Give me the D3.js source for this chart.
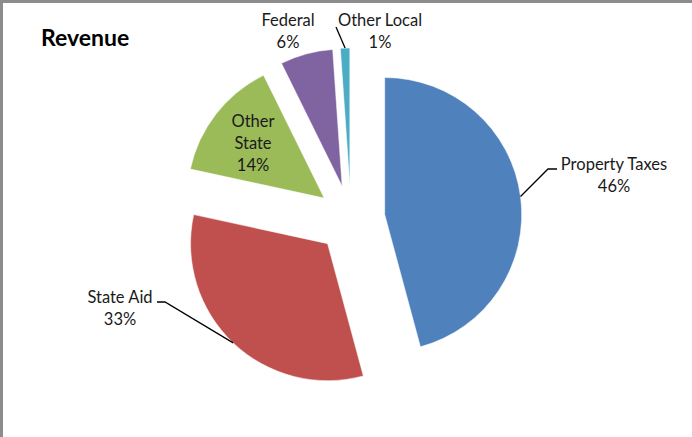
<!DOCTYPE html>
<html>
<head>
<meta charset="utf-8">
<script src="https://cdn.jsdelivr.net/npm/d3@7"></script>
<style>
  html, body { margin: 0; padding: 0; background: #fff; }
  svg { display: block; }
</style>
</head>
<body>
<div id="chart"></div>
<script>
const svgWidth = 692;
const svgHeight = 437;

// data
const categories = ['Property Taxes', 'State Aid', 'Other State', 'Federal', 'Other Local'];
const shares = [45.8, 32.6, 14.3, 6.2, 1.1];
const colors = ['#4F81BD', '#C0504D', '#9BBB59', '#8064A2', '#4BACC6'];

// label placement (layout only)
const labelLayout = {
  'Property Taxes': { lines: ['Property Taxes'], x: 614, y: 170, leader: [[548, 169], [557, 169]] },
  'State Aid': { lines: ['State Aid'], x: 120, y: 303, leader: [[165, 302], [157, 302]] },
  'Other State': { lines: ['Other', 'State'], x: 253, y: 127, leader: null },
  'Federal': { lines: ['Federal'], x: 288, y: 26, leader: null },
  'Other Local': { lines: ['Other Local'], x: 380, y: 26, leader: [[336, 27]] }
};

const cx = 351;
const cy = 219;
const radius = 137;
const explode = 34;
const lineGap = 22;

const svg = d3.select('#chart').append('svg')
  .attr('width', svgWidth)
  .attr('height', svgHeight);

svg.append('rect')
  .attr('x', 1.5)
  .attr('y', 1.5)
  .attr('width', svgWidth + 10)
  .attr('height', svgHeight + 10)
  .attr('fill', '#fff')
  .attr('stroke', '#8c8c8c')
  .attr('stroke-width', 3);

svg.append('text')
  .attr('x', 41)
  .attr('y', 46)
  .attr('font-family', 'Lato, "Open Sans", sans-serif')
  .attr('font-weight', 'bold')
  .attr('font-size', 23)
  .attr('fill', '#000')
  .text('Revenue');

const pie = d3.pie()
  .sort(null)
  .value(d => d.value)
  .startAngle(0)
  .endAngle(2 * Math.PI);

const arc = d3.arc()
  .innerRadius(0)
  .outerRadius(radius);

const slices = pie(categories.map((c, i) => ({ name: c, value: shares[i], color: colors[i] })));

const midAngle = d => (d.startAngle + d.endAngle) / 2;
const offsetOf = d => {
  const a = midAngle(d);
  return [cx + explode * Math.sin(a), cy - explode * Math.cos(a)];
};

const g = svg.append('g');

g.selectAll('path')
  .data(slices)
  .enter()
  .append('path')
  .attr('transform', d => `translate(${offsetOf(d)})`)
  .attr('d', arc)
  .attr('fill', d => d.data.color)
  .attr('stroke', '#fff')
  .attr('stroke-width', 0.5);

// leader lines
slices.forEach(d => {
  const lay = labelLayout[d.data.name];
  if (!lay.leader) return;
  const [ox, oy] = offsetOf(d);
  const a = midAngle(d);
  const start = [ox + radius * Math.sin(a), oy - radius * Math.cos(a)];
  svg.append('path')
    .attr('d', d3.line()([start, ...lay.leader]))
    .attr('fill', 'none')
    .attr('stroke', '#000')
    .attr('stroke-width', 1.3);
});

// labels: name lines plus rounded percentage
slices.forEach(d => {
  const lay = labelLayout[d.data.name];
  const lines = lay.lines.concat(Math.round(d.data.value) + '%');
  const t = svg.append('text')
    .attr('text-anchor', 'middle')
    .attr('font-family', 'Lato, "Open Sans", sans-serif')
    .attr('font-size', 16.5)
    .attr('fill', '#1a1a1a');
  lines.forEach((line, i) => {
    t.append('tspan')
      .attr('x', lay.x)
      .attr('y', lay.y + i * lineGap)
      .text(line);
  });
});
</script>
</body>
</html>
